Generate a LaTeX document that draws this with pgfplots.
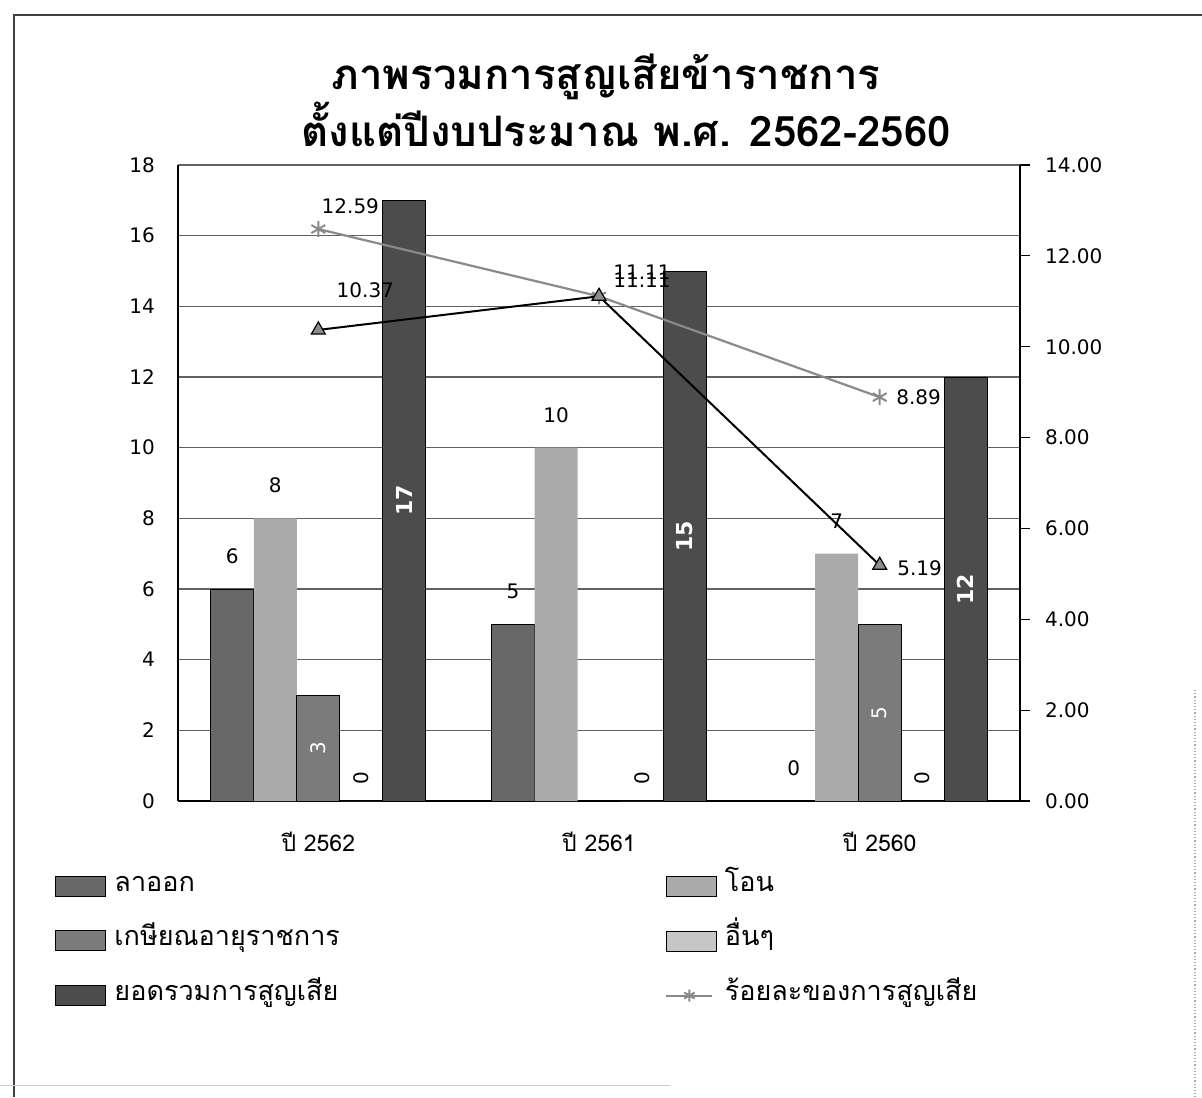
\documentclass[border=0pt]{standalone}
\usepackage{fontspec}
\usepackage{pgfplots}
\usepackage{pgfplotstable}
\pgfplotsset{compat=1.18, /pgf/number format/assume math mode=true}
\setmainfont{DejaVu Sans}
\newfontfamily\thaifont[Script=Thai]{Loma}

\definecolor{resignc}{HTML}{686868}
\definecolor{transferc}{HTML}{ABABAB}
\definecolor{retirec}{HTML}{7B7B7B}
\definecolor{otherc}{HTML}{C6C6C6}
\definecolor{totalc}{HTML}{4C4C4C}
\definecolor{pctc}{HTML}{8A8A8A}

% legend swatches: wide boxes for bars, short line with a centred mark
\pgfplotsset{
  boxlegend/.style={legend image code/.code={\draw[##1] (0pt,-5pt) rectangle (25pt,5pt);}},
  marklinelegend/.style={legend image code/.code={\draw[mark repeat=2, mark phase=2, ##1, sharp plot]
    plot coordinates {(0pt,0pt) (11.5pt,0pt) (23pt,0pt)};}},
}

% counts per fiscal year (x = 0: 2562, 1: 2561, 2: 2560)
\pgfplotstableread{
x v
0 6
1 5
2 0
}\resign
\pgfplotstableread{
x v
0 8
1 10
2 7
}\transfer
\pgfplotstableread{
x v lab
0 3 3
1 0 {}
2 5 5
}\retire
\pgfplotstableread{
x v
0 0
1 0
2 0
}\others
\pgfplotstableread{
x v
0 17
1 15
2 12
}\total
% percentages (right axis); dx, dy move the value labels
\pgfplotstableread{
x y dx dy
0 12.59 16 11.5
1 11.11 21.5 12
2 8.89 19.5 0
}\pctloss
\pgfplotstableread{
x y dx dy
0 10.37 23.5 20
1 11.11 21.5 8
2 5.19 20 -1.5
}\pctrate

\begin{document}
\begin{tikzpicture}
\path[use as bounding box] (0,0) rectangle (601pt,-548.5pt);
% chart frame
\draw[black!75, line width=0.8pt] (7pt,-548.5pt) -- (7pt,-7.5pt) -- (601pt,-7.5pt);
\draw[black!35, densely dotted, line width=0.6pt] (597.5pt,-345pt) -- (597.5pt,-548.5pt);
\draw[black!20, line width=0.5pt] (0pt,-542.5pt) -- (335pt,-542.5pt);

\node[font=\thaifont\bfseries\fontsize{21}{25}\selectfont, align=center] at (303pt,-50pt)
  {ภาพรวมการสูญเสียข้าราชการ\\\hspace*{20pt}ตั้งแต่ปีงบประมาณ พ.ศ. 2562-2560};

\begin{axis}[
  at={(89pt,-400.5pt)}, anchor=south west,
  scale only axis, width=421pt, height=318pt,
  xmin=-0.5, xmax=2.5, ymin=0, ymax=18,
  ybar, bar width=21.5pt,
  xtick={0,1,2}, xticklabels={ปี 2562,ปี 2561,ปี 2560},
  x tick label style={font=\thaifont\fontsize{11.5}{13}\selectfont, yshift=-12pt},
  ytick={0,2,...,18},
  y tick label style={font=\fontsize{10}{12}\selectfont, xshift=-8pt},
  major tick length=0pt,
  axis x line*=bottom, axis y line*=left,
  axis line style={black, line width=0.8pt},
  ymajorgrids, grid style={black!62, line width=0.7pt},
  legend columns=2, legend cell align=left,
  legend style={at={(axis description cs:-0.146,-0.110)}, anchor=north west,
    draw=none, fill=none, inner sep=0pt,
    font=\thaifont\fontsize{13.5}{15}\selectfont, row sep=12.3pt,
    nodes={text height=8pt, text depth=3pt, inner sep=2pt},
    /tikz/every even column/.append style={column sep=24pt},
    /tikz/every odd column/.append style={column sep=2pt}},
  boxlegend,
  nodes near coords style={font=\fontsize{10}{12}\selectfont},
]
\addplot[fill=resignc, draw=black, line width=0.5pt, bar shift=-43pt,
  nodes near coords, point meta=y,
  every node near coord/.append style={yshift=9pt}]
  table[x=x, y=v]{\resign};
\addlegendentry{\makebox[249.5pt][l]{ลาออก}}

\addplot[fill=transferc, draw=none, bar shift=-21.5pt,
  nodes near coords, point meta=y,
  every node near coord/.append style={yshift=9pt}]
  table[x=x, y=v]{\transfer};
\addlegendentry{โอน}

\addplot[fill=retirec, draw=black, line width=0.5pt, bar shift=0pt,
  nodes near coords, point meta=explicit symbolic,
  visualization depends on={y \as \barv},
  every node near coord/.append style={anchor=center, text=white,
    yshift={-\barv*8.8333pt}, rotate=90}]
  table[x=x, y=v, meta=lab]{\retire};
\addlegendentry{\makebox[249.5pt][l]{เกษียณอายุราชการ}}

\addplot[fill=otherc, draw=none, bar shift=21.5pt,
  nodes near coords, point meta=y,
  every node near coord/.append style={anchor=center, yshift=11.5pt, rotate=90}]
  table[x=x, y=v]{\others};
\addlegendentry{อื่นๆ}

\addplot[fill=totalc, draw=black, line width=0.5pt, bar shift=43pt,
  nodes near coords, point meta=y,
  visualization depends on={y \as \barv},
  every node near coord/.append style={anchor=center, text=white,
    font=\bfseries\fontsize{11}{13}\selectfont,
    yshift={-\barv*8.8333pt}, rotate=90}]
  table[x=x, y=v]{\total};
\addlegendentry{\makebox[249.5pt][l]{ยอดรวมการสูญเสีย}}

\addlegendimage{marklinelegend, sharp plot, pctc, line width=1pt, mark=asterisk, mark size=3pt}
\addlegendentry{ร้อยละของการสูญเสีย}
\end{axis}

\begin{axis}[
  at={(89pt,-400.5pt)}, anchor=south west,
  scale only axis, width=421pt, height=318pt,
  xmin=-0.5, xmax=2.5, ymin=0, ymax=14,
  axis x line=none, axis y line*=right,
  axis line style={black, line width=0.8pt},
  ytick={0,2,...,14},
  yticklabel style={font=\fontsize{10}{12}\selectfont, xshift=4pt,
    /pgf/number format/fixed, /pgf/number format/fixed zerofill,
    /pgf/number format/precision=2},
  tick align=outside, major tick length=5pt,
  tick style={black, line width=0.6pt},
  clip=false,
]
\addplot[pctc, line width=1.1pt, mark=asterisk, mark size=4pt,
  mark options={pctc, line width=1pt},
  nodes near coords, point meta=explicit symbolic,
  visualization depends on={\thisrow{dx} \as \ldx},
  visualization depends on={\thisrow{dy} \as \ldy},
  every node near coord/.append style={anchor=center, text=black,
    font=\fontsize{10}{12}\selectfont, xshift=\ldx pt, yshift=\ldy pt}]
  table[x=x, y=y, meta=y]{\pctloss};

\addplot[black, line width=1pt, mark=triangle*, mark size=4pt,
  mark options={fill=black!45, draw=black, line width=0.6pt},
  nodes near coords, point meta=explicit symbolic,
  visualization depends on={\thisrow{dx} \as \ldx},
  visualization depends on={\thisrow{dy} \as \ldy},
  every node near coord/.append style={anchor=center, text=black,
    font=\fontsize{10}{12}\selectfont, xshift=\ldx pt, yshift=\ldy pt}]
  table[x=x, y=y, meta=y]{\pctrate};
\end{axis}
\end{tikzpicture}
\end{document}
